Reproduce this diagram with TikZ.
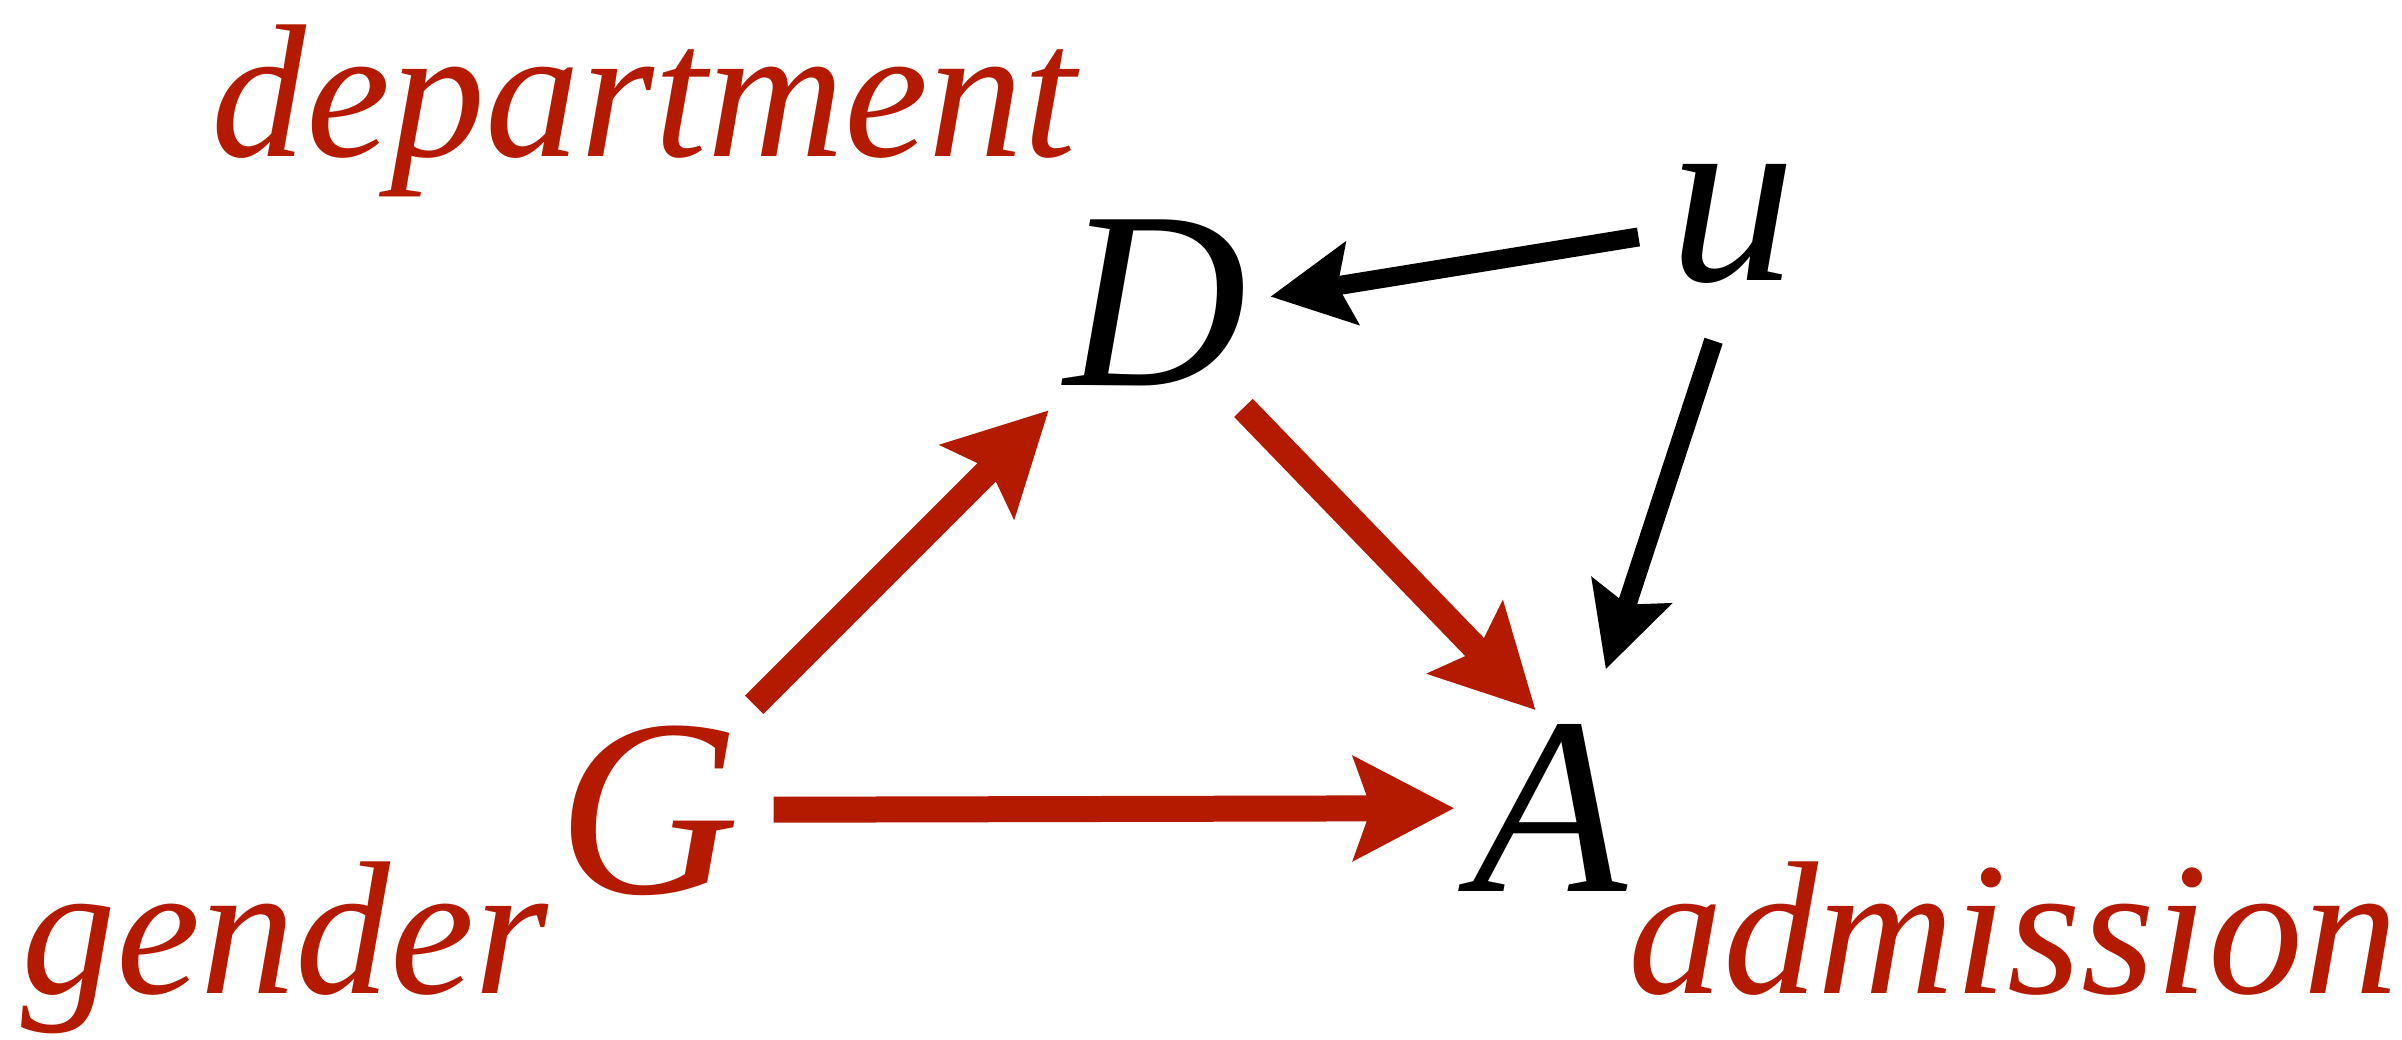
\documentclass[tikz,border=0pt]{standalone}
\usepackage{fontspec}
\setmainfont{Liberation Serif}
\usepackage{tikz}
\usetikzlibrary{arrows.meta}
\definecolor{GenderRed}{HTML}{B41A00}
\definecolor{NodeInk}{HTML}{000000}
\newcommand{\varfont}{\fontsize{72}{80}\selectfont\itshape}
\newcommand{\lblfont}{\fontsize{54}{60}\selectfont\itshape}
\newcommand{\centred}[1]{\smash{\raisebox{-.5\height}{#1}}}

\begin{document}
\begin{tikzpicture}[
    var/.style={circle, inner sep=0pt, minimum size=1.9cm, font=\varfont},
    lbl/.style={anchor=base, inner sep=0pt, font=\lblfont, text=GenderRed},
    redarrow/.style={-{Stealth[length=1cm, width=1.02cm, inset=0.17cm]},
                     line width=0.26cm, draw=GenderRed},
    blackarrow/.style={-{Stealth[length=0.82cm, width=0.82cm, inset=0.14cm]},
                       line width=0.19cm, draw=NodeInk}
]
    \useasboundingbox (0,0) rectangle (24.02,-10.40);

    \node[var, text=GenderRed] (G) at (6.49,-8.10) {\centred{G}};
    \node[var] (D) at (11.56,-3.03) {\centred{D}};
    \node[var] (A) at (15.50,-8.08) {\centred{A}};
    \node[var] (u) at (17.33,-2.22) {\centred{u}};

    \node[lbl] (lblD) at (6.44,-1.57) {department};
    \node[lbl] (lblG) at (2.85,-9.93) {gender};
    \node[lbl] (lblA) at (20.13,-9.93) {admission};

    \draw[redarrow, shorten <=0.53cm, shorten >=0.56cm] (G) -- (D);
    \draw[redarrow, shorten <=0.29cm] (G) -- (A);
    \draw[redarrow, shorten <=0.41cm, shorten >=0.04cm] (D.-52) -- (A.97.6);
    \draw[blackarrow, shorten >=0.19cm] (u.189.3) -- (D.2);
    \draw[blackarrow, shorten <=0.25cm, shorten >=0.54cm] (u.-97.2) -- (A.66.5);
\end{tikzpicture}
\end{document}
